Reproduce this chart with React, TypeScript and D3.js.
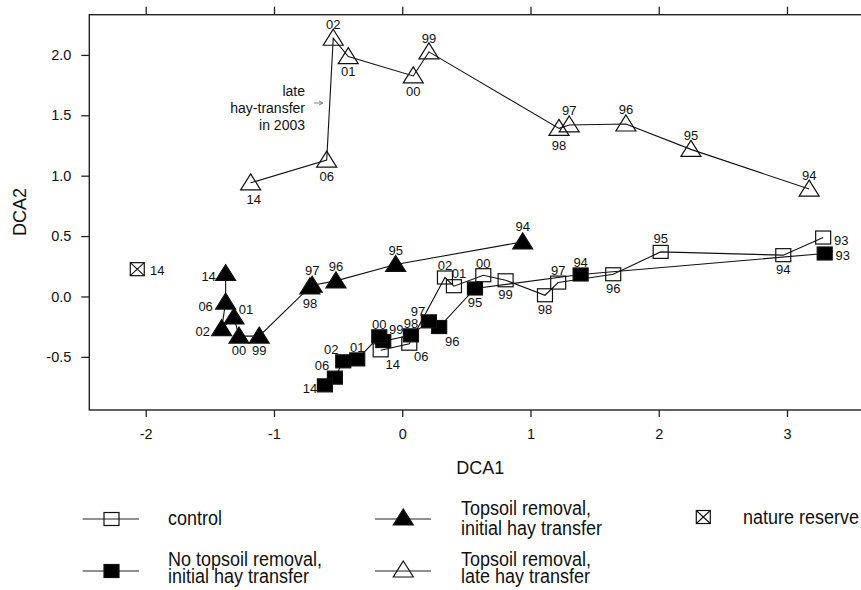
import { useEffect, useRef } from "react";
import * as d3 from "d3";

// DCA scores, one array per treatment, years as labels
const controlYears = ["93", "94", "95", "96", "97", "98", "99", "00", "01", "02", "06", "14"];
const controlX = [3.282, 2.971, 2.015, 1.645, 1.216, 1.113, 0.806, 0.632, 0.403, 0.333, 0.055, -0.168];
const controlY = [0.488, 0.342, 0.369, 0.184, 0.115, 0.01, 0.134, 0.176, 0.085, 0.157, -0.391, -0.446];

const noTopsoilYears = ["93", "94", "95", "96", "97", "98", "99", "00", "01", "02", "06", "14"];
const noTopsoilX = [3.294, 1.391, 0.567, 0.288, 0.208, 0.068, -0.148, -0.179, -0.351, -0.46, -0.525, -0.603];
const noTopsoilY = [0.356, 0.182, 0.066, -0.253, -0.206, -0.322, -0.369, -0.33, -0.521, -0.537, -0.672, -0.736];

const earlyHayYears = ["94", "95", "96", "97", "98", "99", "00", "01", "02", "06", "14"];
const earlyHayX = [0.939, -0.051, -0.517, -0.702, -0.72, -1.115, -1.273, -1.312, -1.408, -1.377, -1.377];
const earlyHayY = [0.452, 0.265, 0.129, 0.093, 0.079, -0.328, -0.328, -0.17, -0.266, -0.046, 0.19];

const lateHayYears = ["94", "95", "96", "97", "98", "99", "00", "01", "02", "06", "14"];
const lateHayX = [3.173, 2.251, 1.744, 1.302, 1.222, 0.208, 0.086, -0.421, -0.538, -0.589, -1.182];
const lateHayY = [0.889, 1.218, 1.428, 1.42, 1.392, 2.025, 1.826, 1.986, 2.138, 1.129, 0.941];

const reserveYears = ["14"];
const reserveX = [-2.066];
const reserveY = [0.226];

const xTicks = [-2, -1, 0, 1, 2, 3];
const yTicks = [-0.5, 0.0, 0.5, 1.0, 1.5, 2.0];

// where each year label sits relative to its marker: [dx, dy]
const controlLabelPos = [[18, 3], [0, 14], [0, -13], [0, 14], [0, -12], [0, 14], [0, 14], [0, -12], [5, -13], [0, -12], [12, 13], [12, 14]];
const noTopsoilLabelPos = [[18, 2], [0, -12], [0, 14], [13, 14], [-11, -10], [0, -12], [13, -12], [0, -12], [0, -12], [-12, -12], [-13, -12], [-15, 3]];
const earlyHayLabelPos = [[0, -15], [0, -14], [0, -14], [0, -15], [0, 17], [0, 14], [0, 14], [12, -8], [-19, 3], [-20, 4], [-17, 3]];
const lateHayLabelPos = [[0, -14], [0, -14], [0, -15], [0, -15], [0, 17], [0, -13], [0, 16], [0, 15], [0, -14], [0, 16], [3, 17]];
const reserveLabelPos = [[20, 1]];

const FONT = "'Liberation Sans', Arial, Helvetica, sans-serif";

export default function App() {
  const ref = useRef(null);

  useEffect(() => {
    if (ref.current) {
      ref.current.innerHTML = "";
    }
    const width = 861,
      height = 590;
    const plot = { left: 89.3, top: 14.7, right: 871, bottom: 410 };

    const svg = d3
      .select(ref.current)
      .append("svg")
      .attr("width", width)
      .attr("height", height)
      .style("display", "block")
      .style("background", "#fff")
      .style("font-family", FONT);

    const x = d3.scaleLinear().domain([-2.44, 3.655]).range([plot.left, plot.right]);
    const y = d3.scaleLinear().domain([-0.94, 2.333]).range([plot.bottom, plot.top]);

    const ink = "#111";

    // frame
    svg
      .append("rect")
      .attr("x", plot.left)
      .attr("y", plot.top)
      .attr("width", plot.right - plot.left)
      .attr("height", plot.bottom - plot.top)
      .attr("fill", "none")
      .attr("stroke", "#222")
      .attr("stroke-width", 1.4);

    // bottom / top / left axes with outward ticks
    const bottomAxis = svg
      .append("g")
      .attr("transform", "translate(0," + plot.bottom + ")")
      .call(d3.axisBottom(x).tickValues(xTicks).tickSize(7).tickPadding(12).tickFormat(d3.format("d")));
    const topAxis = svg
      .append("g")
      .attr("transform", "translate(0," + plot.top + ")")
      .call(d3.axisTop(x).tickValues(xTicks).tickSize(8).tickFormat(() => ""));
    const leftAxis = svg
      .append("g")
      .attr("transform", "translate(" + plot.left + ",0)")
      .call(d3.axisLeft(y).tickValues(yTicks).tickSize(8).tickPadding(10).tickFormat(d3.format(".1f")));

    [bottomAxis, topAxis, leftAxis].forEach((g) => {
      g.select(".domain").remove();
      g.selectAll("line").attr("stroke", "#222").attr("stroke-width", 1.3);
      g.selectAll("text").attr("fill", ink).style("font-family", FONT).style("font-size", "14.5px");
    });
    leftAxis.selectAll("text").text((d) => d3.format(".1f")(d).replace("−", "-"));
    bottomAxis.selectAll("text").text((d) => String(d));

    // axis titles
    svg
      .append("text")
      .attr("x", (plot.left + plot.right) / 2)
      .attr("y", 468)
      .attr("dy", "0.35em")
      .attr("text-anchor", "middle")
      .attr("fill", ink)
      .style("font-size", "18px")
      .text("DCA1");
    svg
      .append("text")
      .attr("transform", "translate(20,212) rotate(-90)")
      .attr("dy", "0.35em")
      .attr("text-anchor", "middle")
      .attr("fill", ink)
      .style("font-size", "18px")
      .text("DCA2");

    const tri = "M0,-9L10,7L-10,7Z";

    const series = [
      { xs: controlX, ys: controlY, years: controlYears, pos: controlLabelPos, kind: "sqOpen" },
      { xs: lateHayX, ys: lateHayY, years: lateHayYears, pos: lateHayLabelPos, kind: "triOpen" },
      { xs: earlyHayX, ys: earlyHayY, years: earlyHayYears, pos: earlyHayLabelPos, kind: "triFill" },
      { xs: noTopsoilX, ys: noTopsoilY, years: noTopsoilYears, pos: noTopsoilLabelPos, kind: "sqFill" },
    ];

    const line = d3
      .line()
      .x((d) => x(d[0]))
      .y((d) => y(d[1]));

    const drawMarker = (g, kind, cx, cy) => {
      if (kind === "sqOpen" || kind === "sqFill") {
        g.append("rect")
          .attr("x", cx - 7.5)
          .attr("y", cy - 6.5)
          .attr("width", 15)
          .attr("height", 13)
          .attr("fill", kind === "sqFill" ? "#000" : "none")
          .attr("stroke", "#111")
          .attr("stroke-width", 1.2);
      } else if (kind === "triOpen" || kind === "triFill") {
        g.append("path")
          .attr("d", tri)
          .attr("transform", "translate(" + cx + "," + cy + ")")
          .attr("fill", kind === "triFill" ? "#000" : "none")
          .attr("stroke", "#111")
          .attr("stroke-width", 1.2)
          .attr("stroke-linejoin", "miter");
      } else if (kind === "reserve") {
        g.append("rect")
          .attr("x", cx - 7)
          .attr("y", cy - 6.5)
          .attr("width", 14)
          .attr("height", 13)
          .attr("fill", "none")
          .attr("stroke", "#111")
          .attr("stroke-width", 1.2);
        g.append("path")
          .attr("d", `M${cx - 7},${cy - 6.5}L${cx + 7},${cy + 6.5}M${cx + 7},${cy - 6.5}L${cx - 7},${cy + 6.5}`)
          .attr("stroke", "#111")
          .attr("stroke-width", 1.1);
      }
    };

    const dataLayer = svg.append("g");
    series.forEach((s) => {
      const pts = s.xs.map((v, i) => [v, s.ys[i]]);
      dataLayer
        .append("path")
        .datum(pts)
        .attr("d", line)
        .attr("fill", "none")
        .attr("stroke", "#111")
        .attr("stroke-width", 1.1);
    });
    series.forEach((s) => {
      const g = dataLayer.append("g");
      s.xs.forEach((v, i) => drawMarker(g, s.kind, x(v), y(s.ys[i])));
    });

    // nature reserve point
    reserveX.forEach((v, i) => drawMarker(dataLayer, "reserve", x(v), y(reserveY[i])));

    // year labels
    const labelLayer = svg.append("g").style("font-size", "13px").attr("fill", ink);
    [...series, { xs: reserveX, ys: reserveY, years: reserveYears, pos: reserveLabelPos }].forEach((s) => {
      s.xs.forEach((v, i) => {
        labelLayer
          .append("text")
          .attr("x", x(v) + s.pos[i][0])
          .attr("y", y(s.ys[i]) + s.pos[i][1])
          .attr("dy", "0.35em")
          .attr("text-anchor", "middle")
          .text(s.years[i]);
      });
    });

    // annotation
    const ann = svg.append("g").style("font-size", "14px").attr("fill", ink).attr("text-anchor", "end");
    ["late", "hay-transfer", "in 2003"].forEach((t, i) => {
      ann
        .append("text")
        .attr("x", 305)
        .attr("y", 91 + i * 17)
        .attr("dy", "0.35em")
        .text(t);
    });
    svg
      .append("line")
      .attr("x1", 314)
      .attr("x2", 322)
      .attr("y1", 103)
      .attr("y2", 103)
      .attr("stroke", "#777")
      .attr("stroke-width", 0.9);
    svg
      .append("path")
      .attr("d", "M319,101L323,103L319,105")
      .attr("fill", "none")
      .attr("stroke", "#777")
      .attr("stroke-width", 0.9);

    // legend (text baselines as in the figure, glyphs slightly tall)
    const legend = svg.append("g").style("font-size", "18px").attr("fill", ink);
    const legendItems = [
      { kind: "sqOpen", mx: 111.5, lx1: 82.7, lx2: 139, my: 519, tx: 168, lines: ["control"], base: [525] },
      { kind: "sqFill", mx: 111.5, lx1: 82.7, lx2: 139, my: 571, tx: 168, lines: ["No topsoil removal,", "initial hay transfer"], base: [566, 583.3] },
      { kind: "triFill", mx: 403.3, lx1: 375, lx2: 431, my: 519, tx: 461, lines: ["Topsoil removal,", "initial hay transfer"], base: [515, 535] },
      { kind: "triOpen", mx: 403.3, lx1: 375, lx2: 431, my: 571, tx: 461, lines: ["Topsoil removal,", "late hay transfer"], base: [566, 583.3] },
      { kind: "reserve", mx: 703.3, lx1: null, lx2: null, my: 517, tx: 743, lines: ["nature reserve"], base: [523.5] },
    ];
    legendItems.forEach((it) => {
      if (it.lx1 !== null) {
        legend
          .append("line")
          .attr("x1", it.lx1)
          .attr("x2", it.lx2)
          .attr("y1", it.my)
          .attr("y2", it.my)
          .attr("stroke", "#222")
          .attr("stroke-width", 1.1);
      }
      drawMarker(legend, it.kind, it.mx, it.my + (it.kind.startsWith("tri") ? -1 : 0));
      it.lines.forEach((t, i) => {
        legend
          .append("text")
          .attr("transform", "translate(" + it.tx + "," + it.base[i] + ") scale(1,1.12)")
          .text(t);
      });
    });
  });

  return <div ref={ref} style={{ position: "absolute", left: 0, top: 0, width: 861, height: 590, overflow: "hidden" }}></div>;
}
